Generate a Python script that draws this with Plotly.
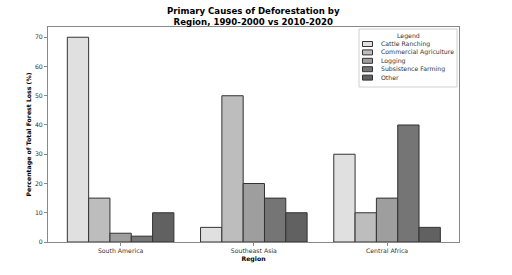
import plotly.graph_objects as go

regions = ["South America", "Southeast Asia", "Central Africa"]
causes = ["Cattle Ranching", "Commercial Agriculture", "Logging", "Subsistence Farming", "Other"]
cattle = [70, 5, 30]
commercial = [15, 50, 10]
logging = [3, 20, 15]
subsistence = [2, 15, 40]
other = [10, 10, 5]
series = [cattle, commercial, logging, subsistence, other]
colors = ["#e0e0e0", "#bdbdbd", "#9e9e9e", "#757575", "#616161"]

FONT = "DejaVu Sans"
W, H = 512, 275
L, R, T, B = 48, 53, 27, 33
PW, PH = W - L - R, H - T - B

def px(x):
    return (x - L) / PW

def py(y):
    return (H - B - y) / PH

fig = go.Figure()
for name, vals, col in zip(causes, series, colors):
    fig.add_trace(go.Bar(
        x=regions, y=vals, name=name, showlegend=False,
        marker=dict(color=col, line=dict(color="#333333", width=1)),
    ))

shapes = []
annotations = []
# legend box
shapes.append(dict(type="rect", xref="paper", yref="paper",
                   x0=px(359), x1=px(457), y0=py(87), y1=py(29),
                   line=dict(color="#d0d0d0", width=1), fillcolor="rgba(255,255,255,0.85)"))
annotations.append(dict(text="Legend", xref="paper", yref="paper", x=px(408), y=py(35.5),
                        xanchor="center", yanchor="middle", showarrow=False,
                        font=dict(family=FONT, size=6.2, color="#333333")))
for i, (name, col) in enumerate(zip(causes, colors)):
    yc = 44 + i * 8.4
    shapes.append(dict(type="rect", xref="paper", yref="paper",
                       x0=px(362.5), x1=px(372.5), y0=py(yc + 2.5), y1=py(yc - 2.5),
                       line=dict(color="#333333", width=1), fillcolor=col))
    annotations.append(dict(text=name, xref="paper", yref="paper", x=px(379), y=py(yc),
                            xanchor="left", yanchor="middle", showarrow=False,
                            font=dict(family=FONT, size=6.2, color="#333333")))

annotations.append(dict(
    text="<b>Primary Causes of Deforestation by<br>Region, 1990-2000 vs 2010-2020</b>",
    xref="paper", yref="paper", x=0.5, y=1, yanchor="bottom", xanchor="center",
    yshift=-2, showarrow=False, font=dict(family=FONT, size=8.6, color="black")))

fig.update_layout(
    width=W, height=H,
    margin=dict(l=L, r=R, t=T, b=B),
    paper_bgcolor="white", plot_bgcolor="white",
    barmode="group", bargap=0.2, bargroupgap=0,
    font=dict(family=FONT, size=6.2, color="#333333"),
    shapes=shapes, annotations=annotations,
    xaxis=dict(
        range=[-0.545, 2.54], showline=True, mirror=True, linecolor="#888888", linewidth=1,
        ticks="outside", ticklen=3, tickcolor="#888888", showgrid=False,
        title=dict(text="<b>Region</b>", font=dict(size=6.2, color="black"), standoff=3),
        tickfont=dict(size=6.2, color="#333333"),
    ),
    yaxis=dict(
        range=[0, 73.5], showline=True, mirror=True, linecolor="#888888", linewidth=1,
        ticks="outside", ticklen=3, tickcolor="#888888", showgrid=False, zeroline=False,
        dtick=10,
        title=dict(text="<b>Percentage of Total Forest Loss (%)</b>", font=dict(size=6.2, color="black"), standoff=2),
        tickfont=dict(size=6.2, color="#333333"),
    ),
)
fig.write_html("out.html")
